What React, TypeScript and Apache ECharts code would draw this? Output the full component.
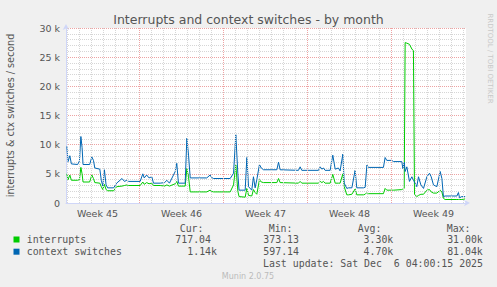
import React, { useEffect, useRef } from 'react';
import * as echarts from 'echarts';

// x = days since Sun Oct 26 2025 00:00
const days = [
  0.95, 1.05, 1.2, 1.33, 1.85, 2.0, 2.12, 2.22, 2.3, 2.85, 3.03, 3.17, 3.28, 3.7, 3.82, 3.95, 4.08, 4.22, 4.35, 4.85,
  5.1, 5.55, 5.75, 5.95, 6.1, 7.06, 7.28, 7.4, 7.6, 7.8, 8.03, 8.17, 8.73, 9.1, 9.28, 9.5, 9.98, 10.11, 10.25, 10.81,
  10.95, 11.09, 11.23, 12.61, 12.89, 13.0, 13.17, 14.56, 14.84, 15.03, 15.2, 15.3, 15.81, 15.95, 16.09, 16.36, 16.5, 16.64, 16.78, 17.0,
  17.15, 17.34, 18.45, 18.59, 18.72, 20.25, 20.39, 20.53, 21.92, 22.06, 22.2, 22.33, 22.47, 22.89, 23.11, 23.31, 23.58, 23.72, 23.95, 24.06,
  24.28, 24.42, 24.7, 24.97, 25.11, 25.67, 25.81, 25.95, 26.08, 27.33, 27.47, 27.61, 28.03, 28.17, 28.86, 28.95, 29.06, 29.14, 29.28, 29.5,
  29.7, 29.83, 29.92, 30.11, 30.25, 30.45, 30.67, 30.95, 31.17, 31.31, 31.5, 31.78, 32.06, 32.2, 32.33, 32.47, 33.45, 33.58, 33.67, 33.86,
  34.14,
];
const interrupts = [
  5000, 4000, 4800, 3900, 3900, 4000, 6100, 5000, 3600, 3600, 4800, 4200, 3500, 3400, 2800, 2300, 3200, 2300, 2100, 2100,
  2800, 2900, 3000, 3100, 3000, 3000, 3600, 3200, 3500, 3300, 3400, 3000, 3000, 2900, 3100, 2900, 3300, 3700, 2900, 2900,
  5900, 4500, 1900, 1900, 2200, 2000, 1900, 1900, 3100, 6500, 2000, 1100, 1000, 2500, 1300, 1200, 2300, 1800, 1500, 4000,
  3600, 3500, 3500, 4200, 3500, 3400, 3700, 3400, 3400, 3700, 3500, 3700, 3400, 3400, 4900, 3400, 3400, 3400, 5000, 2800,
  1400, 1400, 1500, 2400, 1400, 1400, 1500, 1800, 1600, 1600, 2500, 2200, 2200, 2200, 2300, 2400, 2500, 27500, 27400, 27200,
  26400, 26100, 1500, 1100, 1300, 1500, 1500, 2200, 2300, 1900, 1700, 1700, 2200, 1900, 800, 600, 600, 600, 600, 600,
  700,
];
const contextSwitches = [
  9700, 7100, 8100, 6700, 6600, 7200, 11400, 9500, 6600, 6600, 7900, 7300, 6000, 5800, 3900, 2900, 5700, 3100, 2600, 2600,
  3400, 4200, 3700, 3900, 3700, 3700, 5000, 4300, 4800, 4300, 4500, 3400, 3400, 3500, 3900, 3400, 5400, 6800, 3400, 3400,
  11100, 8200, 4300, 4300, 4800, 4400, 4200, 4200, 5100, 11700, 5000, 2200, 2200, 7800, 2800, 2200, 4500, 2600, 4000, 6600,
  6000, 5700, 5700, 7000, 5700, 5600, 6200, 5600, 5600, 6200, 5800, 6000, 5600, 5600, 8200, 5800, 6000, 5500, 8400, 3400,
  2500, 2600, 2600, 5600, 2600, 2600, 2700, 6500, 6100, 6100, 7800, 7300, 7300, 7100, 7100, 5900, 7000, 5400, 6200, 3700,
  4500, 3900, 3600, 2800, 4500, 3100, 2500, 4500, 5100, 4500, 3100, 2800, 5400, 4200, 1100, 1200, 1200, 1800, 900, 1100,
  1100,
];

const weekLabels = ['Week 45', 'Week 46', 'Week 47', 'Week 48', 'Week 49'];
const weekCenters = [3.5, 10.5, 17.5, 24.5, 31.5];
const weekBoundaries = [7, 14, 21, 28];
const dayLines = [1, 2, 3, 4, 5, 6, 8, 9, 10, 11, 12, 13, 15, 16, 17, 18, 19, 20, 22, 23, 24, 25, 26, 27, 29, 30, 31, 32, 33, 34];

const titleText = 'Interrupts and context switches - by month';
const yAxisTitle = 'interrupts & ctx switches / second';
const seriesNames = ['interrupts', 'context switches'];
const seriesColors = ['#00CC00', '#0066B3'];
const curValues = ['717.04', '1.14k'];
const minValues = ['373.13', '597.14'];
const avgValues = ['3.30k', '4.70k'];
const maxValues = ['31.00k', '81.04k'];
const lastUpdate = 'Last update: Sat Dec  6 04:00:15 2025';
const muninVersion = 'Munin 2.0.75';
const rrdCredit = 'RRDTOOL / TOBI OETIKER';

const FONT = '"DejaVu Sans", sans-serif';
const MONO = '"DejaVu Sans Mono", monospace';
const TXT = '#555555';

function txt(text: string, x: number, y: number, align: string, font: string, fill = TXT, extra: any = {}) {
  return {
    type: 'text',
    x,
    y,
    silent: true,
    ...extra,
    style: {
      text,
      font,
      fill,
      align,
      textAlign: align,
      verticalAlign: 'middle',
      textVerticalAlign: 'middle',
    },
  };
}

export default function App() {
  const ref = useRef<HTMLDivElement>(null);
  useEffect(() => {
    document.body.style.margin = '0';
    document.body.style.background = '#F0F0F0';
    const chart = echarts.init(ref.current!, null, { renderer: 'svg' });
    const minorColor = '#D6D6D6';
    const majorColor = '#EDA3A3';
    const gridLineData = [
      ...dayLines.map((d) => ({ xAxis: d, lineStyle: { color: minorColor, type: [1, 1], width: 1 } })),
      ...weekBoundaries.map((d) => ({ xAxis: d, lineStyle: { color: majorColor, type: [1, 1], width: 1 } })),
    ];
    const rowsY = [239.5, 251.7];
    const graphics: any[] = [
      txt(titleText, 248.5, 19.5, 'center', `12.5px ${FONT}`, '#555555'),
      txt(yAxisTitle, 10.5, 115.5, 'center', `9.6px ${FONT}`, TXT, { rotation: Math.PI / 2 }),
      txt(rrdCredit, 489.5, 58.5, 'center', `7px ${FONT}`, '#C8C8C8', { rotation: -Math.PI / 2 }),
      txt('Cur:', 203.5, 228, 'right', `9.9px ${MONO}`),
      txt('Min:', 292.5, 228, 'right', `9.9px ${MONO}`),
      txt('Avg:', 381.5, 228, 'right', `9.9px ${MONO}`),
      txt('Max:', 470.5, 228, 'right', `9.9px ${MONO}`),
      txt(lastUpdate, 483, 263.7, 'right', `9.9px ${MONO}`),
      txt(muninVersion, 248, 276.5, 'center', `8px ${FONT}`, '#BBBBBB'),
    ];
    seriesNames.forEach((name, i) => {
      const y = rowsY[i];
      graphics.push({
        type: 'rect',
        silent: true,
        shape: { x: 13.5, y: y - 3, width: 6, height: 6 },
        style: { fill: seriesColors[i] },
      });
      graphics.push(txt(name, 26.7, y, 'left', `9.9px ${MONO}`));
      const curRight = curValues[i].endsWith('k') ? 217 : 211;
      graphics.push(txt(curValues[i], curRight, y, 'right', `9.9px ${MONO}`));
      const minRight = minValues[i].endsWith('k') ? 305 : 299;
      graphics.push(txt(minValues[i], minRight, y, 'right', `9.9px ${MONO}`));
      const avgRight = avgValues[i].endsWith('k') ? 393.3 : 387.3;
      graphics.push(txt(avgValues[i], avgRight, y, 'right', `9.9px ${MONO}`));
      const maxRight = maxValues[i].endsWith('k') ? 482.8 : 476.8;
      graphics.push(txt(maxValues[i], maxRight, y, 'right', `9.9px ${MONO}`));
    });

    chart.setOption({
      animation: false,
      backgroundColor: '#F0F0F0',
      grid: {
        left: 66,
        top: 28,
        width: 400,
        height: 175,
        show: true,
        backgroundColor: '#FFFFFF',
        borderWidth: 0,
      },
      xAxis: {
        type: 'value',
        min: 0.88,
        max: 34.21,
        axisLine: {
          show: true,
          onZero: false,
          lineStyle: { color: '#CFD6F8', width: 1 },
          symbol: ['none', 'arrow'],
          symbolSize: [5, 6],
          symbolOffset: [0, 4],
        },
        axisTick: { show: false },
        splitLine: { show: false },
        axisLabel: {
          customValues: weekCenters,
          formatter: (v: number) => {
            const idx = weekCenters.findIndex((c) => Math.abs(c - v) < 1e-6);
            return idx >= 0 ? weekLabels[idx] : '';
          },
          color: TXT,
          fontSize: 9.5,
          fontFamily: FONT,
          margin: 5,
        },
      },
      yAxis: {
        type: 'value',
        min: 0,
        max: 30000,
        interval: 5000,
        axisLine: {
          show: true,
          lineStyle: { color: '#CFD6F8', width: 1 },
          symbol: ['none', 'arrow'],
          symbolSize: [5, 6],
          symbolOffset: [0, 4],
        },
        axisTick: { show: false },
        axisLabel: {
          formatter: (v: number) => (v === 0 ? '0' : `${v / 1000} k`),
          color: TXT,
          fontSize: 9.5,
          fontFamily: FONT,
          margin: 6,
        },
        splitLine: { show: true, lineStyle: { color: majorColor, type: [1, 1], width: 1 } },
        minorTick: { show: false, splitNumber: 5 },
        minorSplitLine: { show: true, lineStyle: { color: minorColor, type: [1, 1], width: 1 } },
      },
      graphic: graphics,
      series: [
        {
          type: 'line',
          data: [],
          z: 1,
          silent: true,
          markLine: {
            silent: true,
            symbol: 'none',
            label: { show: false },
            emphasis: { disabled: true },
            data: gridLineData,
          },
        },
        {
          type: 'line',
          name: seriesNames[0],
          z: 3,
          data: days.map((d, i) => [d, interrupts[i]]),
          showSymbol: false,
          symbol: 'none',
          lineStyle: { color: seriesColors[0], width: 1 },
          itemStyle: { color: seriesColors[0] },
        },
        {
          type: 'line',
          name: seriesNames[1],
          z: 4,
          data: days.map((d, i) => [d, contextSwitches[i]]),
          showSymbol: false,
          symbol: 'none',
          lineStyle: { color: seriesColors[1], width: 1 },
          itemStyle: { color: seriesColors[1] },
        },
      ],
    });
    return () => chart.dispose();
  }, []);
  return <div ref={ref} style={{ width: 497, height: 287 }} />;
}
